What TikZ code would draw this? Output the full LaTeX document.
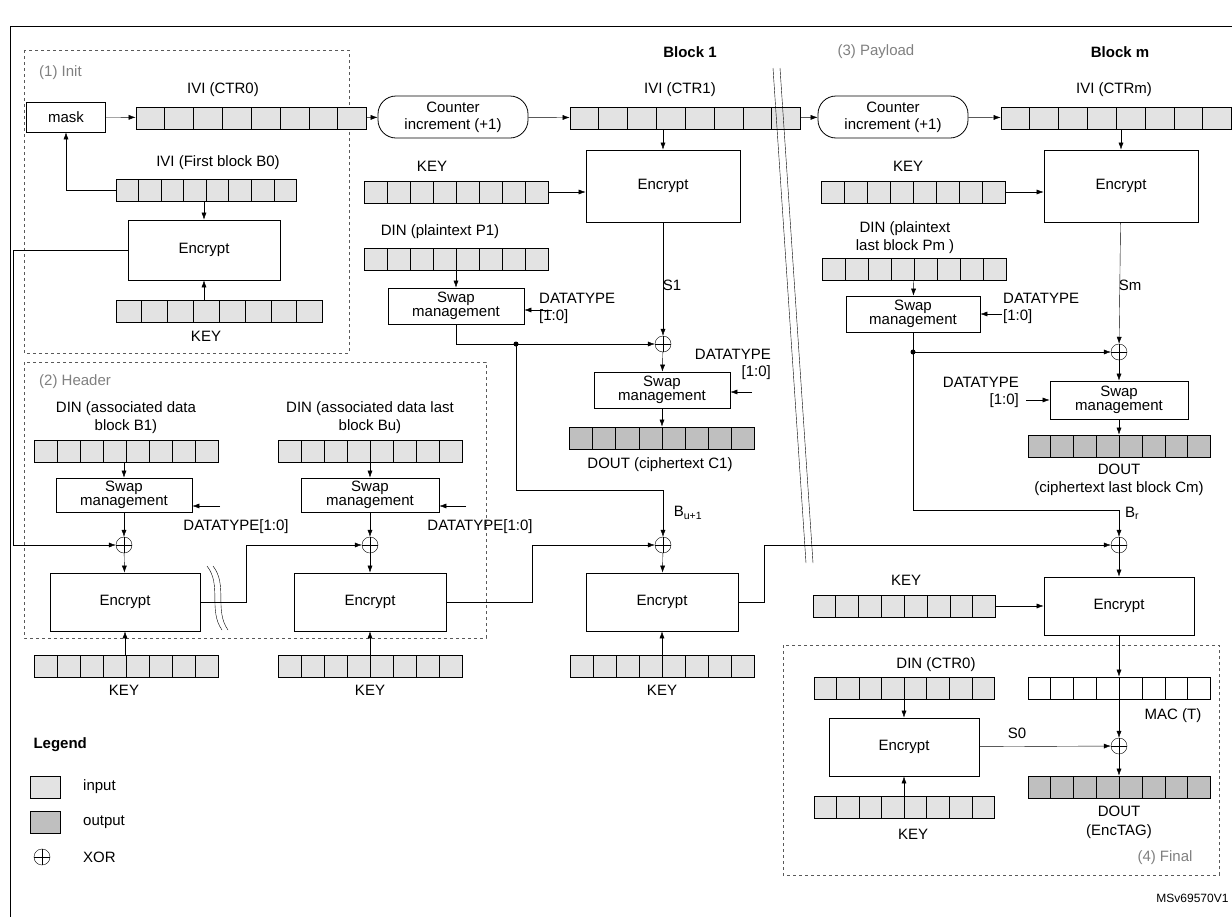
\documentclass[tikz,border=0pt]{standalone}
\usepackage{fontspec}
\setmainfont{Liberation Sans}
\usetikzlibrary{arrows.meta,calc}

\tikzset{
  box/.style={draw, thick, minimum width=#1, align=center, inner sep=1pt},
  regbox/.style={draw, thick, minimum height=22pt, inner sep=0pt},
  xor/.style={circle, draw, minimum size=16pt, inner sep=0pt,
    path picture={\draw (path picture bounding box.north) -- (path picture bounding box.south)
      (path picture bounding box.west) -- (path picture bounding box.east);}},
  lab/.style={inner sep=1pt, align=center},
  phase/.style={text=gray, inner sep=1pt},
  zone/.style={draw, dashed, gray!70!black},
  >={Latex[length=7pt,width=5pt]}
}
\colorlet{infill}{gray!22}
\colorlet{outfill}{gray!50}

% register of 8 cells
\newcommand{\reg}[5]{%
  \node[regbox, fill=#5, minimum width=#4] (#1) at (#2,#3) {};
  \foreach \i in {1,...,7}
    \draw ($(#1.south west)!\i/8!(#1.south east)$) -- ($(#1.north west)!\i/8!(#1.north east)$);
}

\begin{document}
\begin{tikzpicture}[x=1pt, y=-1pt, font=\fontsize{15}{17}\selectfont]
\useasboundingbox (0,0) rectangle (1232,916);
\draw[thick] (10,26) rectangle (1245,930);

% zones
\draw[zone] (24,50) rectangle (349,353);
\draw[zone] (24,362) rectangle (486,638);
\draw[zone] (783,645) rectangle (1219,875);
\node[phase, anchor=west] at (38,73) {(1) Init};
\node[phase, anchor=west] at (38,382) {(2) Header};
\node[phase] at (876,52) {(3) Payload};
\node[phase] at (1165,858) {(4) Final};
\node[font=\fontsize{15}{17}\selectfont\bfseries] at (690,52) {Block 1};
\node[font=\fontsize{15}{17}\selectfont\bfseries] at (1120,52) {Block m};

% (1) Init
\node[box=79pt, minimum height=30pt] (mask) at (66,117) {mask};
\reg{ctr0}{251}{118}{230pt}{infill}
\node[lab] at (223,90) {IVI (CTR0)};
\reg{b0}{206}{190}{180pt}{infill}
\node[lab] at (218,163) {IVI (First block B0)};
\node[box=152pt, minimum height=60pt] (encI) at (204,250) {Encrypt};
\reg{keyI}{219}{311}{206pt}{infill}
\node[lab] at (206,336) {KEY};
\draw[->] (mask) -- (ctr0);
\draw[->] (b0.west) -| (mask.south);
\draw[->] (b0.south -| encI) -- (encI.north);
\draw[->] (encI.south |- keyI.north) -- (encI.south);

% counters
\node[draw, thick, rounded corners=18pt, minimum width=150pt, minimum height=42pt, align=center, inner sep=1pt] (cnt1) at (453,117) {Counter\\increment (+1)};
\reg{ctr1}{685}{118}{230pt}{infill}
\node[lab] at (680,90) {IVI (CTR1)};
\node[draw, thick, rounded corners=18pt, minimum width=150pt, minimum height=42pt, align=center, inner sep=1pt] (cnt2) at (893,117) {Counter\\increment (+1)};
\reg{ctrm}{1116}{118}{230pt}{infill}
\node[lab] at (1114,90) {IVI (CTRm)};
\draw[->] (ctr0) -- (cnt1);
\draw[->] (cnt1) -- (ctr1);
\draw[->] (ctr1) -- (cnt2);
\draw[->] (cnt2) -- (ctrm);

% break lines
\draw (773,68) -- (806,563);
\draw (780,68) -- (813,563);

% Block 1
\node[box=154pt, minimum height=72pt] (enc1) at (663,186) {Encrypt};
\reg{key1}{456}{192}{184pt}{infill}
\node[lab] at (432,166) {KEY};
\reg{p1}{456}{259}{184pt}{infill}
\node[lab] at (440,232) {DIN (plaintext P1)};
\node[box=136pt, minimum height=36pt, font=\fontsize{15}{14}\selectfont] (swap1) at (456,306) {Swap\\management};
\node[lab, align=left, anchor=west] at (538,308) {DATATYPE\\{[1:0]}};
\coordinate (dt1) at (552,310);
\node[xor] (xor1) at (663,344) {};
\node[lab] at (672,285) {S1};
\node[box=136pt, minimum height=36pt, font=\fontsize{15}{14}\selectfont] (swap1b) at (662,390) {Swap\\management};
\node[lab, align=right, anchor=east] at (772,364) {DATATYPE\\{[1:0]}};
\coordinate (dt1b) at (752,392);
\reg{dout1}{662}{438}{185pt}{outfill}
\node[lab] at (660,465) {DOUT (ciphertext C1)};
\draw[->] (ctr1.south -| enc1) -- (enc1.north);
\draw[->] (key1.east) -- (key1.east -| enc1.west);
\draw[->] (p1) -- (swap1);
\draw[->] (dt1) -- (dt1 -| swap1.east);
\draw[->] (enc1) -- (xor1);
\coordinate (d1) at (516,344);
\draw[->] (swap1.south) |- (xor1.west);
\fill (d1) circle (2.5pt);
\draw[->] (xor1) -- (swap1b);
\draw[->] (dt1b) -- (dt1b -| swap1b.east);
\draw[->] (swap1b) -- (dout1);

% Block m
\node[box=154pt, minimum height=72pt] (encm) at (1121,186) {Encrypt};
\reg{keym}{913}{192}{184pt}{infill}
\node[lab] at (908,166) {KEY};
\reg{pm}{914}{269}{184pt}{infill}
\node[lab, font=\fontsize{15}{18}\selectfont] at (905,238) {DIN (plaintext\\last block Pm )};
\node[box=134pt, minimum height=36pt, font=\fontsize{15}{14}\selectfont] (swapm) at (913,314) {Swap\\management};
\node[lab, align=left, anchor=west] at (1002,308) {DATATYPE\\{[1:0]}};
\coordinate (dtm) at (1002,314);
\node[xor] (xor2) at (1119,352) {};
\node[lab] at (1130,285) {Sm};
\node[box=138pt, minimum height=38pt, font=\fontsize{15}{14}\selectfont] (swapmb) at (1119,400) {Swap\\management};
\node[lab, align=right, anchor=east] at (1020,392) {DATATYPE\\{[1:0]}};
\coordinate (dtmb) at (1026,400);
\reg{doutm}{1119}{446}{182pt}{outfill}
\node[lab, font=\fontsize{15}{18}\selectfont] at (1119,480) {DOUT\\(ciphertext last block Cm)};
\draw[->] (encm.north |- ctrm.south) -- (encm.north);
\draw[->] (keym.east) -- (keym.east -| encm.west);
\draw[->] (pm) -- (swapm);
\draw[->] (dtm) -- (dtm -| swapm.east);
\draw[->] (encm) -- (xor2);
\coordinate (dm) at (913,352);
\draw[->] (swapm.south) |- (xor2.west);
\fill (dm) circle (2.5pt);
\draw[->] (xor2) -- (swapmb);
\draw[->] (dtmb) -- (dtmb -| swapmb.west);
\draw[->] (swapmb) -- (doutm);

% (2) Header
\node[lab, font=\fontsize{15}{18}\selectfont] at (126,418) {DIN (associated data\\block B1)};
\reg{hreg1}{126}{451}{184pt}{infill}
\node[box=136pt, minimum height=34pt, font=\fontsize{15}{14}\selectfont] (hswap1) at (124,495) {Swap\\management};
\node[lab] at (236,527) {DATATYPE[1:0]};
\coordinate (hdt1) at (220,506);
\node[xor] (hx1) at (124,545) {};
\node[box=150pt, minimum height=58pt] (henc1) at (125,602) {Encrypt};
\reg{hkey1}{126}{666}{184pt}{infill}
\node[lab] at (124,690) {KEY};

\node[lab, font=\fontsize{15}{18}\selectfont] at (370,418) {DIN (associated data last\\block Bu)};
\reg{hreg2}{370}{451}{184pt}{infill}
\node[box=138pt, minimum height=34pt, font=\fontsize{15}{14}\selectfont] (hswap2) at (370,495) {Swap\\management};
\node[lab] at (480,527) {DATATYPE[1:0]};
\coordinate (hdt2) at (466,506);
\node[xor] (hx2) at (370,545) {};
\node[box=152pt, minimum height=58pt] (henc2) at (370,602) {Encrypt};
\reg{hkey2}{370}{666}{184pt}{infill}
\node[lab] at (370,690) {KEY};

\foreach \k in {1,2} {
  \draw[->] (hreg\k.south -| hswap\k) -- (hswap\k.north);
  \draw[->] (hdt\k) -- (hdt\k -| hswap\k.east);
  \draw[->] (hswap\k) -- (hx\k);
  \draw[->] (hx\k) -- (henc\k);
  \draw[->] (hkey\k.north -| henc\k) -- (henc\k.south);
}
\draw[->] (encI.west) -- ++(-114,0) |- (hx1.west);
\draw[->] (henc1.east) -- (246,602) |- (hx2.west);
\draw (207,566) .. controls (222,585) and (208,610) .. (222,630);
\draw (213,566) .. controls (228,585) and (214,610) .. (228,630);

% last header block
\node[xor] (xor3) at (663,545) {};
\node[box=152pt, minimum height=58pt] (enc3) at (662,602) {Encrypt};
\reg{key3}{662}{666}{184pt}{infill}
\node[lab] at (662,690) {KEY};
\node[lab] at (688,513) {B\textsubscript{u+1}};
\draw[->] (d1) -- ++(0,146) -| (xor3.north);
\draw[->] (henc2.east) -- (532,602) |- (xor3.west);
\draw[->] (xor3) -- (enc3);
\draw[->] (key3.north -| enc3) -- (enc3.south);

% MAC block
\node[xor] (xor4) at (1119,545) {};
\node[box=150pt, minimum height=58pt] (encf) at (1119,606) {Encrypt};
\reg{keyf}{904}{606}{182pt}{infill}
\node[lab] at (906,580) {KEY};
\node[lab] at (1132,513) {B\textsubscript{r}};
\draw[->] (dm) -- ++(0,158) -| (xor4.north);
\draw[->] (enc3.east) -- (764,602) |- (xor4.west);
\draw[->] (xor4) -- (encf);
\draw[->] (keyf) -- (encf);

% (4) Final
\reg{dinf}{904}{688}{180pt}{infill}
\node[lab] at (936,665) {DIN (CTR0)};
\node[box=150pt, minimum height=58pt] (encf2) at (904,747) {Encrypt};
\reg{keyf2}{904}{807}{180pt}{infill}
\node[lab] at (913,834) {KEY};
\reg{mac}{1119}{688}{182pt}{white}
\node[lab] at (1173,716) {MAC (T)};
\node[xor] (xor5) at (1119,746) {};
\node[lab] at (1017,733) {S0};
\reg{doutf}{1119}{787}{182pt}{outfill}
\node[lab, font=\fontsize{15}{19}\selectfont] at (1119,822) {DOUT\\(EncTAG)};
\draw[->] (encf) -- (mac);
\draw[->] (mac) -- (xor5);
\draw[->] (xor5) -- (doutf);
\draw[->] (dinf) -- (encf2);
\draw[->] (keyf2) -- (encf2);
\draw[->] (encf2) -- (xor5);

% Legend
\node[font=\fontsize{15}{17}\selectfont\bfseries, anchor=west] at (30,745) {Legend};
\node[draw, thick, fill=infill, minimum width=30pt, minimum height=22pt] (lin) at (45,787) {};
\node[lab, anchor=west] at (82,787) {input};
\node[draw, thick, fill=outfill, minimum width=30pt, minimum height=22pt] (lout) at (45,822) {};
\node[lab, anchor=west] at (82,822) {output};
\node[xor] (lxor) at (42,857) {};
\node[lab, anchor=west] at (82,857) {XOR};

\node[font=\fontsize{12}{14}\selectfont, anchor=east] at (1232,898) {MSv69570V1};
\end{tikzpicture}
\end{document}
